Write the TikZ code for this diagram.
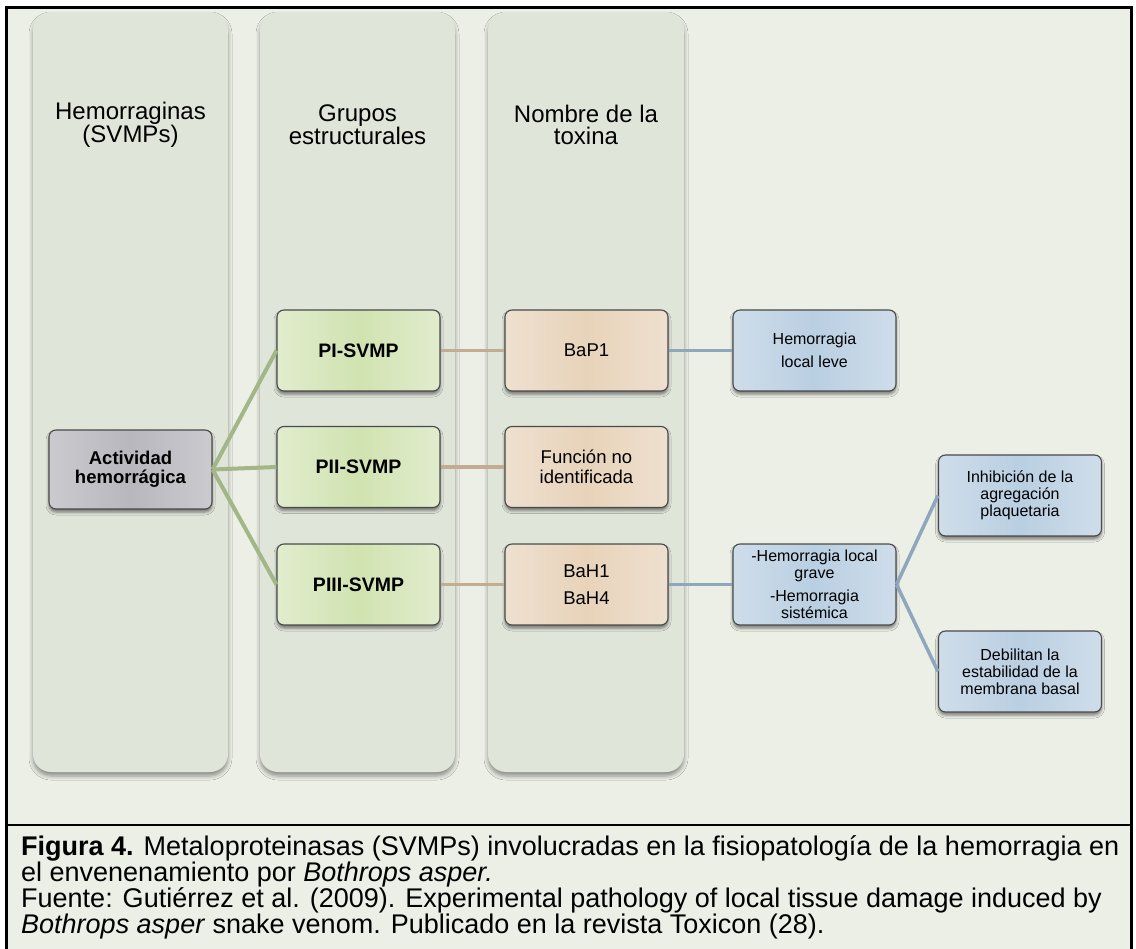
\documentclass[tikz,border=0pt]{standalone}
\usepackage{fontspec}
\setmainfont{Liberation Sans}
\usetikzlibrary{positioning,shadows.blur}

\definecolor{fondo}{HTML}{ECEFE6}
\definecolor{colfill}{HTML}{E0E5DA}
\definecolor{borde}{HTML}{4A4A4A}
\definecolor{grisa}{HTML}{CBCACF}
\definecolor{grisb}{HTML}{B8B7BD}
\definecolor{verdea}{HTML}{E1ECCD}
\definecolor{verdeb}{HTML}{D1E3B0}
\definecolor{tana}{HTML}{EEE0CF}
\definecolor{tanb}{HTML}{E8D3BA}
\definecolor{azula}{HTML}{CFDDEA}
\definecolor{azulb}{HTML}{B9CFE2}
\definecolor{lverde}{HTML}{A3B687}
\definecolor{ltan}{HTML}{C4AC91}
\definecolor{lazul}{HTML}{8EA7BC}

\begin{document}
\begin{tikzpicture}[x=1pt, y=-1pt, node distance=228pt,
  col/.style={fill=colfill, rounded corners=18pt,
    blur shadow={shadow xshift=0pt, shadow yshift=-4pt, shadow blur radius=4pt, shadow opacity=40}},
  head/.style={align=center, font=\fontsize{24}{22}\selectfont},
  caja/.style={draw=borde, line width=1.1pt, rounded corners=7pt, minimum width=163pt,
    minimum height=81pt, align=center, inner sep=2pt,
    blur shadow={shadow xshift=0pt, shadow yshift=-3pt, shadow blur radius=3pt, shadow opacity=50}},
  act/.style={caja, minimum height=79pt, left color=grisa, right color=grisa, middle color=grisb,
    font=\bfseries\fontsize{18.5}{19}\selectfont},
  grp/.style={caja, left color=verdea, right color=verdea, middle color=verdeb,
    font=\bfseries\fontsize{19.5}{20}\selectfont},
  tox/.style={caja, left color=tana, right color=tana, middle color=tanb,
    font=\fontsize{18.5}{20}\selectfont},
  efe/.style={caja, left color=azula, right color=azula, middle color=azulb,
    font=\fontsize{16}{17}\selectfont},
  lg/.style={lverde, line width=4pt},
  lt/.style={ltan, line width=3.5pt},
  la/.style={lazul, line width=3.5pt}]

\useasboundingbox (0,0) rectangle (1136,949);
\fill[white] (0,0) rectangle (1136,949);

% marco
\fill[fondo] (6.5,7.5) rectangle (1131.5,960);
\draw[line width=3pt] (6.5,960) |- (1131.5,7.5) -- (1131.5,960);
\draw[line width=2pt] (6.5,825) -- (1131.5,825);

% columnas
\path[col] (33,12) rectangle (228,772);
\path[col] (260,12) rectangle (455,772);
\path[col] (488,12) rectangle (684,772);

\node[head] (h0) at (130.5,125) {Hemorraginas\\(SVMPs)};
\node[head] (h1) at (357.5,125) {Grupos\\estructurales};
\node[head] (h2) at (586,125) {Nombre de la\\toxina};

% cajas
\node[act] (a0) at (130.5,469.5) {Actividad\\hemorrágica};

\node[grp] (g1) at (358.5,350.5) {PI-SVMP};
\node[grp] (g2) at (358.5,467) {PII-SVMP};
\node[grp] (g3) at (358.5,584.5) {PIII-SVMP};

\node[tox,right of=g1] (t1) {BaP1};
\node[tox,right of=g2] (t2) {Función no\\identificada};
\node[tox,right of=g3] (t3) {BaH1\\[7pt]BaH4};

\node[efe,right of=t1] (e1) {Hemorragia\\[6pt]local leve};
\node[efe,right of=t3] (e2) {-Hemorragia local\\grave\\[6pt]-Hemorragia\\sistémica};
\node[efe] (e3) at (1020,495.5) {Inhibición de la\\agregación\\plaquetaria};
\node[efe] (e4) at (1020,671.5) {Debilitan la\\estabilidad de la\\membrana basal};

% conectores
\draw[lg] (a0.east) -- (g1.west);
\draw[lg] (a0.east) -- (g2.west);
\draw[lg] (a0.east) -- (g3.west);
\draw[lt] (g1.east) -- (t1.west);
\draw[lt] (g2.east) -- (t2.west);
\draw[lt] (g3.east) -- (t3.west);
\draw[la] (t1.east) -- (e1.west);
\draw[la] (t3.east) -- (e2.west);
\draw[la] (e2.east) -- (e3.west);
\draw[la] (e2.east) -- (e4.west);

% pie
\node[anchor=north west, align=left, inner sep=0pt, font=\fontsize{27}{26}\selectfont] (pie) at (21,835)
  {\textbf{Figura 4.} Metaloproteinasas (SVMPs) involucradas en la fisiopatología de la hemorragia en\\
   el envenenamiento por \textit{Bothrops asper.}\\
   Fuente: Gutiérrez et al. (2009). Experimental pathology of local tissue damage induced by\\
   \textit{Bothrops asper} snake venom. Publicado en la revista Toxicon (28).};
\end{tikzpicture}
\end{document}
